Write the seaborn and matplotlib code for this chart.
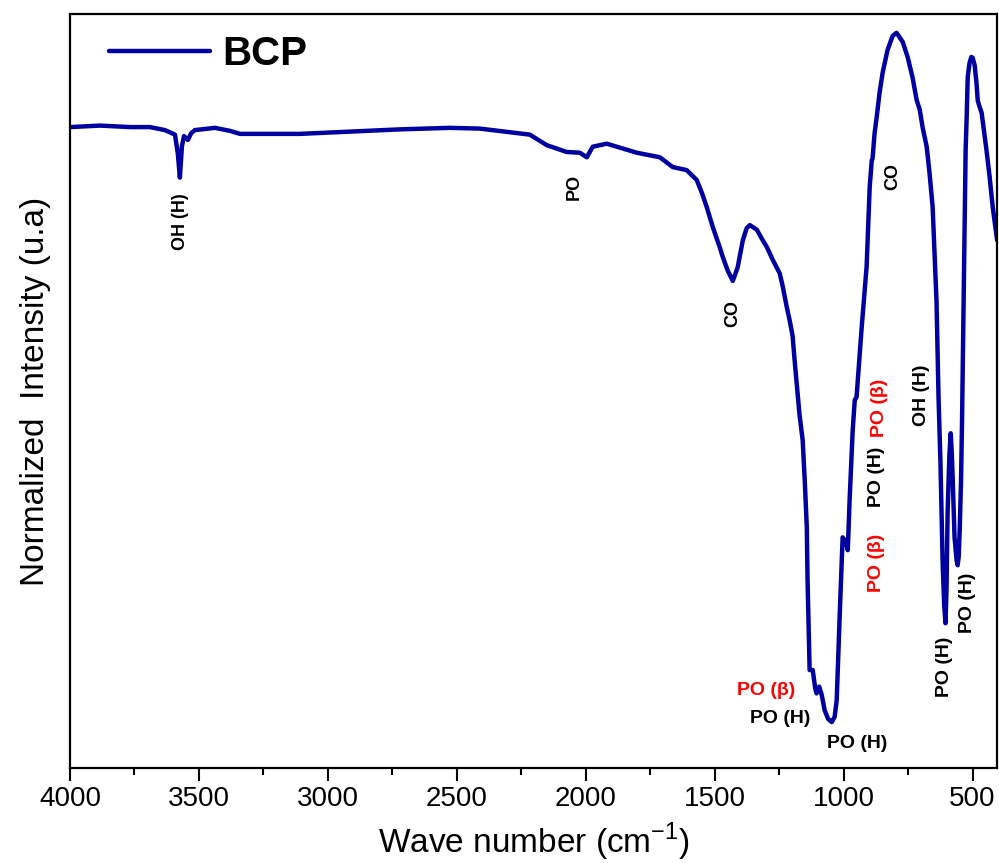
import matplotlib
matplotlib.use("Agg")
import matplotlib.pyplot as plt
import seaborn as sns
import pandas as pd
from matplotlib.ticker import MultipleLocator

wavenumber = [4000, 3884, 3767, 3690, 3632, 3593, 3582, 3574, 3566, 3558, 3543, 3530, 3516,
              3438, 3380, 3341, 3109, 2915, 2721, 2527, 2411, 2217, 2151, 2074, 2023, 1996,
              1973, 1919, 1802, 1713, 1663, 1609, 1570, 1550, 1531, 1508, 1481, 1469, 1450,
              1430, 1411, 1391, 1376, 1364, 1337, 1314, 1298, 1275, 1248, 1237, 1221, 1209,
              1198, 1190, 1178, 1171, 1159, 1151, 1143, 1140, 1132, 1120, 1110, 1105, 1095,
              1085, 1074, 1060, 1046, 1035, 1027, 1015, 1004, 992, 984, 977, 965, 957, 950,
              930, 911, 899, 891, 888, 880, 872, 861, 849, 830, 810, 795, 771, 752, 733, 717,
              705, 694, 678, 667, 655, 640, 632, 625, 616, 610, 605, 601, 597, 590, 585, 581,
              577, 570, 562, 558, 554, 550, 545, 541, 537, 531, 527, 523, 519, 512, 505, 500,
              492, 485, 480, 473, 465, 446, 434, 422, 405]
intensity = [85.0, 85.2, 85.0, 85.0, 84.6, 84.0, 81.5, 78.3, 82.5, 83.8, 83.3, 84.2, 84.6,
             84.9, 84.5, 84.1, 84.1, 84.4, 84.7, 84.9, 84.8, 84.0, 82.6, 81.7, 81.6, 81.0,
             82.4, 82.8, 81.6, 81.0, 79.7, 79.3, 78.0, 76.3, 74.4, 71.8, 69.1, 67.8, 66.0,
             64.6, 66.4, 70.0, 71.6, 72.0, 71.4, 70.0, 69.1, 67.4, 65.6, 64.0, 61.2, 59.3,
             57.3, 54.0, 49.5, 46.8, 43.5, 38.2, 32.0, 24.9, 13.0, 13.0, 10.5, 9.9, 10.8,
             9.7, 7.7, 6.5, 6.1, 6.8, 9.0, 20.6, 30.6, 30.0, 28.9, 35.5, 44.8, 48.8, 49.2,
             58.5, 66.5, 77.1, 80.6, 80.8, 84.2, 86.3, 89.5, 92.2, 95.2, 97.1, 97.5, 96.3,
             94.3, 91.6, 88.6, 87.3, 85.0, 82.4, 78.9, 74.4, 62.0, 49.0, 41.0, 27.0, 21.5,
             19.2, 24.0, 33.8, 41.5, 44.4, 42.0, 38.2, 30.6, 27.5, 26.9, 28.0, 31.6, 38.0,
             46.0, 56.0, 70.9, 82.0, 86.3, 91.6, 93.5, 94.3, 94.2, 93.2, 90.9, 88.5, 87.7,
             86.9, 81.9, 78.4, 74.4, 70.0]

ann_text = ["OH (H)", "PO", "CO", "CO", "PO (β)", "PO (H)", "PO (β)", "OH (H)",
            "PO (H)", "PO (H)", "PO (β)", "PO (H)", "PO (H)"]
ann_x = [3570, 2043, 1430, 810, 860, 872, 872, 698, 609, 519, 1302, 1248, 946]
ann_y = [72.5, 77.1, 60.3, 78.4, 47.7, 38.6, 27.2, 49.5, 13.4, 21.9, 10.3, 6.6, 3.3]
ann_rot = [90, 90, 90, 90, 90, 90, 90, 90, 90, 90, 0, 0, 0]
ann_color = ["black", "black", "black", "black", "red", "black", "red", "black",
             "black", "black", "red", "black", "black"]
ann_size = [13, 13, 13, 13, 14, 14, 14, 14, 14, 14, 14, 14, 14]

df = pd.DataFrame({"Wave number": wavenumber, "Intensity": intensity})

sns.set_style("white")
plt.rcParams["font.family"] = ["Liberation Sans", "DejaVu Sans"]
plt.rcParams["text.color"] = "black"
plt.rcParams["axes.labelcolor"] = "black"
plt.rcParams["xtick.color"] = "black"
plt.rcParams["lines.solid_capstyle"] = "round"
plt.rcParams["lines.solid_joinstyle"] = "round"

fig = plt.figure(figsize=(9.99, 8.63), dpi=100)
ax = fig.add_axes([0.0701, 0.110, 0.928, 0.8738])

sns.lineplot(data=df, x="Wave number", y="Intensity", ax=ax, color="#0000A0",
             linewidth=3.2, label="BCP", sort=False)

ax.set_xlim(4000, 405)
ax.set_ylim(0, 100)
ax.xaxis.set_major_locator(MultipleLocator(500))
ax.xaxis.set_minor_locator(MultipleLocator(250))
ax.set_yticks([])
ax.tick_params(axis="x", which="major", direction="out", length=9, width=1.5,
               labelsize=20, bottom=True, pad=4, colors="black")
ax.tick_params(axis="x", which="minor", direction="out", length=5, width=1.5, bottom=True)
for s in ax.spines.values():
    s.set_linewidth(1.6)
    s.set_color("black")

ax.set_xlabel("Wave number (cm$^{\\mathregular{-1}}$)", fontsize=24, labelpad=6)
ax.set_ylabel("Normalized  Intensity (u.a)", fontsize=24, labelpad=14)

for t, x, y, r, c, fs in zip(ann_text, ann_x, ann_y, ann_rot, ann_color, ann_size):
    ax.text(x, y, t, rotation=r, color=c, fontsize=fs, fontweight="bold",
            ha="center", va="center")

leg = ax.legend(loc="upper left", frameon=False, handlelength=2.5, handletextpad=0.3,
                prop={"size": 29, "weight": "bold"}, borderaxespad=0.3,
                bbox_to_anchor=(0.012, 1.01))
for txt in leg.get_texts():
    txt.set_color("black")

fig.savefig("out.png", dpi=100)
